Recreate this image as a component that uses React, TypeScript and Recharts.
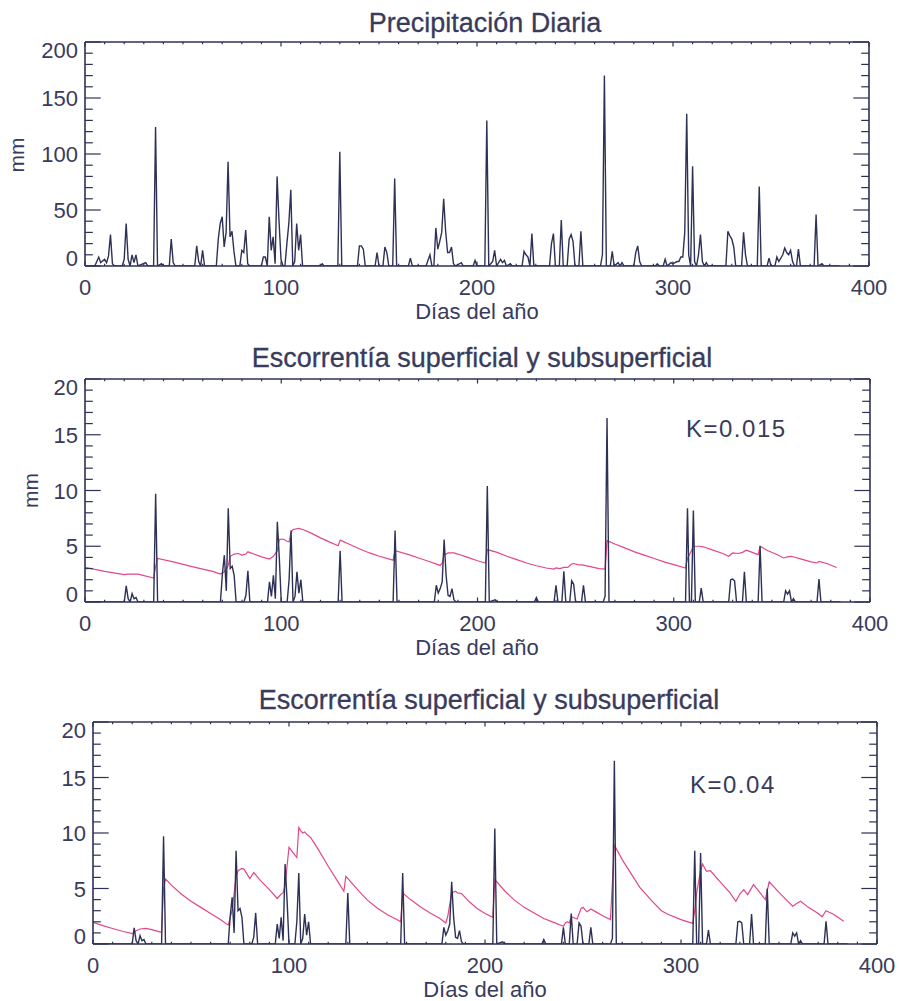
import { LineChart, Line, XAxis, YAxis } from "recharts";

const INK = "#2e3156";
const TEXT = "#393b5c";
const PINK = "#e2478a";
const FONT = '"Liberation Sans", Arial, Helvetica, sans-serif';

// Precipitación diaria (mm)
const precipDays = [
  0, 5, 7, 8, 10, 11, 12, 13, 14, 15, 19, 20, 21, 22, 23, 24, 25, 26, 27, 31, 32, 35, 36, 37, 39, 40,
  43, 44, 45, 46, 56, 57, 58, 59, 60, 61, 67, 68, 69, 70, 71, 72, 73, 74, 75, 76, 77, 79, 80, 81, 82,
  83, 84, 90, 91, 92, 93, 94, 95, 96, 97, 98, 99, 100, 101, 102, 103, 104, 105, 106, 107, 108, 109,
  110, 111, 120, 121, 122, 129, 130, 131, 139, 140, 141, 142, 143, 148, 149, 150, 152, 153, 154, 155,
  157, 158, 159, 165, 166, 167, 174, 176, 177, 178, 179, 180, 181, 182, 183, 184, 185, 186, 187, 188,
  189, 192, 193, 198, 199, 200, 204, 205, 206, 208, 209, 210, 212, 213, 214, 215, 217, 218, 223, 224,
  225, 226, 227, 228, 229, 237, 238, 239, 240, 242, 243, 244, 246, 247, 248, 249, 250, 252, 253, 254,
  263, 264, 265, 266, 268, 269, 270, 272, 273, 274, 275, 280, 281, 282, 283, 284, 291, 292, 293, 295, 296,
  297, 299, 300, 302, 303, 304, 305, 306, 307, 308, 309, 310, 311, 312, 313, 314, 315, 316, 317, 318,
  327, 328, 329, 330, 331, 332, 335, 336, 337, 338, 343, 344, 345, 348, 349, 350, 352, 353, 354, 356,
  357, 358, 359, 360, 361, 362, 363, 364, 365, 372, 373, 374, 376, 377, 385,
];
const precipMm = [
  0, 0, 8, 3, 6, 3, 9, 28, 2, 0, 0, 6, 38, 6, 0, 10, 3, 10, 0, 3, 0, 0, 124, 0, 2, 0,
  0, 24, 3, 0, 0, 18, 4, 0, 14, 0, 0, 24, 38, 44, 17, 30, 93, 26, 31, 13, 0, 0, 14, 12, 32,
  2, 0, 0, 8, 8, 0, 44, 14, 26, 2, 80, 40, 6, 0, 0, 20, 38, 68, 0, 4, 38, 14,
  28, 0, 0, 2, 0, 0, 102, 0, 0, 18, 18, 15, 0, 0, 12, 0, 0, 17, 12, 0,
  0, 78, 0, 0, 7, 0, 0, 10, 0, 0, 34, 15, 22, 30, 60, 31, 12, 12, 17, 2,
  0, 3, 0, 0, 5, 0, 0, 130, 0, 4, 14, 0, 6, 3, 5, 0, 2, 0, 0, 13,
  10, 8, 0, 29, 0, 0, 20, 29, 0, 0, 41, 0, 0, 24, 28, 22, 0, 0, 31, 0,
  0, 10, 170, 0, 0, 13, 0, 3, 0, 3, 0, 0, 12, 18, 4, 0, 0, 2, 0, 0, 6,
  0, 3, 2, 4, 4, 8, 8, 30, 136, 10, 0, 89, 4, 0, 10, 28, 4, 0, 3, 0,
  0, 31, 27, 24, 17, 0, 0, 30, 10, 0, 0, 71, 0, 0, 7, 0, 0, 8, 4, 10,
  16, 12, 10, 14, 4, 0, 0, 15, 0, 0, 46, 0, 2, 0, 0,
];

// Escorrentía superficial (mm), shared by both runoff panels
const runoffDays = [
  0, 20, 21, 22, 23, 24, 25, 26, 27, 35, 36, 37, 69, 70, 71, 72, 73, 74, 75, 76, 77, 81, 82, 83, 84,
  93, 94, 95, 96, 97, 98, 99, 100, 103, 104, 105, 106, 107, 108, 109, 110, 111, 129, 130, 131, 157,
  158, 159, 178, 179, 180, 181, 182, 183, 184, 185, 186, 187, 188, 189, 204, 205, 206, 209, 210, 229,
  230, 231, 239, 240, 241, 243, 244, 245, 247, 248, 249, 250, 253, 254, 255, 264, 265, 266, 267, 306,
  307, 308, 309, 310, 311, 313, 314, 315, 328, 329, 330, 331, 332, 335, 336, 337, 343, 344, 345, 356,
  357, 358, 359, 360, 361, 362, 373, 374, 375, 385,
];
const runoffMm = [
  0, 0, 1.45, 0.3, 0, 0.75, 0.3, 0.4, 0, 0, 9.7, 0, 0, 2.5, 4.2, 1, 8.4, 3, 3.2, 2.4, 0, 0, 0.6, 2.8, 0,
  0, 1.8, 0.5, 2.4, 0.3, 7.2, 4, 0, 0, 2, 6.4, 0, 0.5, 2.7, 0.8, 2, 0, 0, 4.6, 0, 0,
  6.4, 0, 0, 1.5, 0.8, 1.2, 1.8, 5.6, 2.4, 0.6, 0.5, 1.2, 0.2, 0, 0, 10.4, 0, 0.2, 0, 0,
  0.4, 0, 0, 1.5, 0, 0, 2.75, 0, 0, 1.9, 1.6, 0, 0, 1.5, 0, 0, 0.5, 16.5, 0, 0,
  8.4, 0, 0, 8.2, 0, 0, 1.25, 0, 0, 2.0, 2.05, 1.9, 0, 0, 2.7, 0, 0, 5.0, 0, 0,
  1.0, 0.7, 1.0, 0, 0.3, 0, 0, 2.05, 0, 0,
];

// Escorrentía subsuperficial, K=0.015 (mm)
const subK015Days = [
  0, 10, 20, 22, 27, 35, 36, 37, 45, 55, 65, 69, 71, 73, 74, 76, 78, 80, 82, 83, 86, 90, 94, 96, 98,
  99, 101, 103, 104, 105, 106, 109, 111, 115, 120, 125, 129, 130, 135, 140, 145, 150, 157, 158, 165,
  170, 175, 181, 182, 183, 185, 188, 190, 195, 200, 204, 205, 210, 215, 220, 225, 230, 235, 239, 240,
  242, 244, 246, 248, 249, 251, 254, 258, 262, 265, 266, 270, 275, 280, 285, 290, 295, 300, 306, 307,
  309, 310, 313, 315, 320, 325, 328, 330, 333, 335, 337, 340, 343, 344, 348, 352, 356, 358, 360, 365,
  370, 373, 374, 378, 383,
];
const subK015Mm = [
  3.1, 2.75, 2.45, 2.5, 2.5, 2.15, 3.2, 3.9, 3.6, 3.15, 2.75, 2.5, 2.7, 3.3, 4.1, 4.3, 4.35, 4.2, 4.3,
  4.5, 4.3, 4.05, 3.85, 4.1, 4.6, 5.6, 5.65, 5.45, 5.4, 6.3, 6.5, 6.6, 6.5, 6.2, 5.75, 5.35, 5.05, 5.55,
  5.15, 4.75, 4.4, 4.1, 3.75, 4.6, 4.25, 3.95, 3.65, 3.28, 3.5, 4.2, 4.4, 4.4, 4.3, 4.0, 3.7, 3.5, 4.7,
  4.45, 4.1, 3.8, 3.5, 3.25, 3.05, 2.95, 3.05, 3.0, 3.1, 3.1, 3.4, 3.45, 3.35, 3.3, 3.15, 3.0, 2.95,
  5.5, 5.2, 4.85, 4.5, 4.2, 3.9, 3.6, 3.35, 3.05, 3.9, 4.6, 5.0, 5.0, 4.95, 4.65, 4.35, 4.1, 4.4, 4.35,
  4.45, 4.65, 4.45, 4.25, 5.0, 4.6, 4.3, 3.95, 4.05, 4.1, 3.85, 3.6, 3.5, 3.65, 3.45, 3.1,
];

// Escorrentía subsuperficial, K=0.04 (mm)
const subK04Days = [
  0, 5, 10, 15, 20, 22, 24, 27, 30, 35, 36, 37, 40, 45, 50, 55, 60, 65, 69, 71, 73, 74, 76, 77, 80, 82,
  85, 90, 94, 96, 97, 98, 99, 100, 103, 104, 105, 106, 107, 108, 109, 111, 115, 120, 125, 128, 129,
  132, 136, 140, 145, 150, 155, 157, 158, 162, 167, 172, 177, 180, 181, 183, 185, 186, 188, 192, 196,
  200, 204, 205, 210, 215, 220, 225, 230, 235, 240, 241, 242, 243, 244, 247, 249, 250, 252, 254, 257,
  260, 264, 266, 270, 275, 279, 285, 290, 293, 300, 306, 307, 308, 310, 311, 313, 315, 320, 325, 328,
  330, 332, 334, 337, 340, 343, 345, 350, 355, 357, 359, 361, 365, 370, 372, 374, 378, 383,
];
const subK04Mm = [
  1.95, 1.65, 1.4, 1.15, 0.93, 1.2, 1.35, 1.4, 1.3, 1.05, 5.0, 5.85, 5.3, 4.5, 3.85, 3.3, 2.75, 2.2,
  1.7, 3.05, 6.05, 6.6, 6.8, 6.75, 5.9, 6.45, 5.8, 4.9, 4.1, 4.5, 4.6, 5.3, 7.0, 8.7, 8.0, 7.8, 10.5,
  10.2, 10.0, 10.1, 9.9, 9.6, 8.5, 7.0, 5.6, 4.75, 6.1, 5.5, 4.7, 3.95, 3.25, 2.65, 2.2, 2.0, 4.6, 4.0,
  3.35, 2.8, 2.3, 1.9, 2.5, 4.6, 4.75, 4.6, 4.55, 3.8, 3.2, 2.75, 2.4, 5.8, 4.8, 3.95, 3.3, 2.8, 2.3,
  1.95, 1.6, 1.9, 2.0, 1.9, 2.45, 2.25, 3.2, 3.3, 2.9, 3.15, 2.85, 2.55, 2.2, 8.9, 7.6, 6.2, 5.1, 3.9,
  3.0, 2.7, 2.2, 1.86, 3.0, 4.6, 6.6, 7.2, 6.55, 6.6, 5.6, 4.6, 3.85, 4.5, 4.9, 4.45, 5.35, 4.7, 4.0,
  5.6, 4.65, 3.75, 3.4, 3.65, 3.85, 3.3, 2.75, 2.45, 3.0, 2.65, 2.05,
];

// axis ticks
const xLabels = [0, 100, 200, 300, 400];
const precipLabels = [0, 50, 100, 150, 200];
const runoffLabels = [0, 5, 10, 15, 20];

const toPoints = (days: number[], vals: number[]) => days.map((d, i) => ({ d, v: vals[i] }));
const steps = (max: number, step: number) => {
  const out: number[] = [];
  for (let v = 0; v <= max + 1e-9; v += step) out.push(Math.round(v * 100) / 100);
  return out;
};

const precipData = toPoints(precipDays, precipMm);
const runoffData = toPoints(runoffDays, runoffMm);
const k015Data = toPoints(subK015Days, subK015Mm);
const k04Data = toPoints(subK04Days, subK04Mm);

const MARGIN = 14; // gap between axis and the tick label anchor
const AXIS = 1; // axes need a non-zero band to be drawn
const xTicks = steps(400, 10);

type Series = { data: { d: number; v: number }[]; color: string; width: number };
type PanelProps = {
  top: number;
  height: number;
  left: number;
  right: number;
  plotTop: number;
  plotBottom: number;
  yMax: number;
  yStep: number;
  yLabels: number[];
  series: Series[];
};

function Panel({ top, height, left, right, plotTop, plotBottom, yMax, yStep, yLabels, series }: PanelProps) {
  const yTicks = steps(yMax, yStep);
  const isYMajor = (v: number) => yLabels.includes(v);
  const isXMajor = (v: number) => xLabels.includes(v);
  const tickStroke = { stroke: INK, strokeWidth: 1.2 };
  const label = { fill: TEXT, fontSize: 22, fontFamily: FONT };

  // eslint-disable-next-line @typescript-eslint/no-explicit-any
  const bottomTick = (p: any) => {
    const v = p.payload.value;
    const ay = p.y - MARGIN;
    const major = isXMajor(v);
    return (
      <g>
        <line x1={p.x} x2={p.x} y1={ay} y2={ay - (major ? 4.5 : 2.2)} {...tickStroke} />
        {major && (
          <text x={p.x} y={ay + 28.5} textAnchor="middle" {...label}>
            {v}
          </text>
        )}
      </g>
    );
  };
  // eslint-disable-next-line @typescript-eslint/no-explicit-any
  const topTick = (p: any) => {
    const len = isXMajor(p.payload.value) ? 4.5 : 2.2;
    return <line x1={p.x} x2={p.x} y1={p.y} y2={p.y + len} {...tickStroke} />;
  };
  // eslint-disable-next-line @typescript-eslint/no-explicit-any
  const leftTick = (p: any) => {
    const v = p.payload.value;
    const ax = p.x + MARGIN;
    const major = isYMajor(v);
    let cy = p.y;
    if (v === yMax) cy += 8;
    if (v === 0) cy -= 8;
    return (
      <g>
        <line x1={ax} x2={ax + (major ? 15.7 : 7.8)} y1={p.y} y2={p.y} {...tickStroke} />
        {major && (
          <text x={ax - 7} y={cy + 8} textAnchor="end" {...label}>
            {v}
          </text>
        )}
      </g>
    );
  };
  // eslint-disable-next-line @typescript-eslint/no-explicit-any
  const rightTick = (p: any) => {
    const len = isYMajor(p.payload.value) ? 15.7 : 7.8;
    return <line x1={p.x} x2={p.x - len} y1={p.y} y2={p.y} {...tickStroke} />;
  };

  const axisLine = { stroke: INK, strokeWidth: 1.6 };

  return (
    <div style={{ position: "absolute", left: 0, top }}>
      <LineChart
        width={899}
        height={height}
        margin={{
          left: left - AXIS,
          right: 899 - right - AXIS,
          top: plotTop - top - AXIS,
          bottom: top + height - plotBottom - AXIS,
        }}
      >
        <XAxis
          xAxisId="b"
          dataKey="d"
          type="number"
          domain={[0, 400]}
          allowDataOverflow
          ticks={xTicks}
          interval={0}
          height={AXIS}
          tickSize={0}
          tickMargin={MARGIN}
          tickLine={false}
          axisLine={axisLine}
          tick={bottomTick}
        />
        <XAxis
          xAxisId="t"
          orientation="top"
          dataKey="d"
          type="number"
          domain={[0, 400]}
          allowDataOverflow
          ticks={xTicks}
          interval={0}
          height={AXIS}
          tickSize={0}
          tickMargin={0}
          tickLine={false}
          axisLine={axisLine}
          tick={topTick}
        />
        <YAxis
          yAxisId="l"
          type="number"
          domain={[0, yMax]}
          allowDataOverflow
          ticks={yTicks}
          interval={0}
          width={AXIS}
          tickSize={0}
          tickMargin={MARGIN}
          tickLine={false}
          axisLine={axisLine}
          tick={leftTick}
        />
        <YAxis
          yAxisId="r"
          orientation="right"
          type="number"
          domain={[0, yMax]}
          allowDataOverflow
          ticks={yTicks}
          interval={0}
          width={AXIS}
          tickSize={0}
          tickMargin={0}
          tickLine={false}
          axisLine={axisLine}
          tick={rightTick}
        />
        {series.map((s, i) => (
          <Line
            key={i}
            xAxisId="b"
            yAxisId="l"
            data={s.data}
            dataKey="v"
            type="linear"
            stroke={s.color}
            strokeWidth={s.width}
            dot={false}
            activeDot={false}
            isAnimationActive={false}
          />
        ))}
      </LineChart>
    </div>
  );
}

export default function App() {
  const title = { fill: TEXT, fontSize: 27, fontFamily: FONT, textAnchor: "middle" as const, stroke: TEXT, strokeWidth: 0.3 };
  const axisText = { fill: TEXT, fontSize: 22, fontFamily: FONT, textAnchor: "middle" as const };
  const kText = { fill: TEXT, fontSize: 24, fontFamily: FONT, letterSpacing: 1.5 };
  return (
    <div style={{ position: "absolute", left: 0, top: 0, width: 899, height: 1001, background: "#fff", overflow: "hidden" }}>
      <Panel
        top={0}
        height={330}
        left={85}
        right={869}
        plotTop={42}
        plotBottom={266}
        yMax={200}
        yStep={10}
        yLabels={precipLabels}
        series={[{ data: precipData, color: INK, width: 1.4 }]}
      />
      <Panel
        top={330}
        height={340}
        left={85}
        right={870}
        plotTop={379}
        plotBottom={602}
        yMax={20}
        yStep={1}
        yLabels={runoffLabels}
        series={[
          { data: k015Data, color: PINK, width: 1.2 },
          { data: runoffData, color: INK, width: 1.4 },
        ]}
      />
      <Panel
        top={670}
        height={331}
        left={93}
        right={877}
        plotTop={722}
        plotBottom={944}
        yMax={20}
        yStep={1}
        yLabels={runoffLabels}
        series={[
          { data: k04Data, color: PINK, width: 1.2 },
          { data: runoffData, color: INK, width: 1.4 },
        ]}
      />
      <svg width={899} height={1001} style={{ position: "absolute", left: 0, top: 0, pointerEvents: "none" }}>
        <text x={485} y={31.5} {...title}>Precipitación Diaria</text>
        <text x={482} y={366.5} {...title}>Escorrentía superficial y subsuperficial</text>
        <text x={489} y={709} {...title}>Escorrentía superficial y subsuperficial</text>

        <text x={477} y={318.5} {...axisText}>Días del año</text>
        <text x={477} y={655} {...axisText}>Días del año</text>
        <text x={485} y={996.5} {...axisText}>Días del año</text>

        <text transform="translate(23.5,155) rotate(-90)" {...axisText} fontSize={21}>mm</text>
        <text transform="translate(38,490.5) rotate(-90)" {...axisText} fontSize={21}>mm</text>

        <text x={686} y={437} {...kText}>K=0.015</text>
        <text x={690} y={793} {...kText}>K=0.04</text>
      </svg>
    </div>
  );
}
